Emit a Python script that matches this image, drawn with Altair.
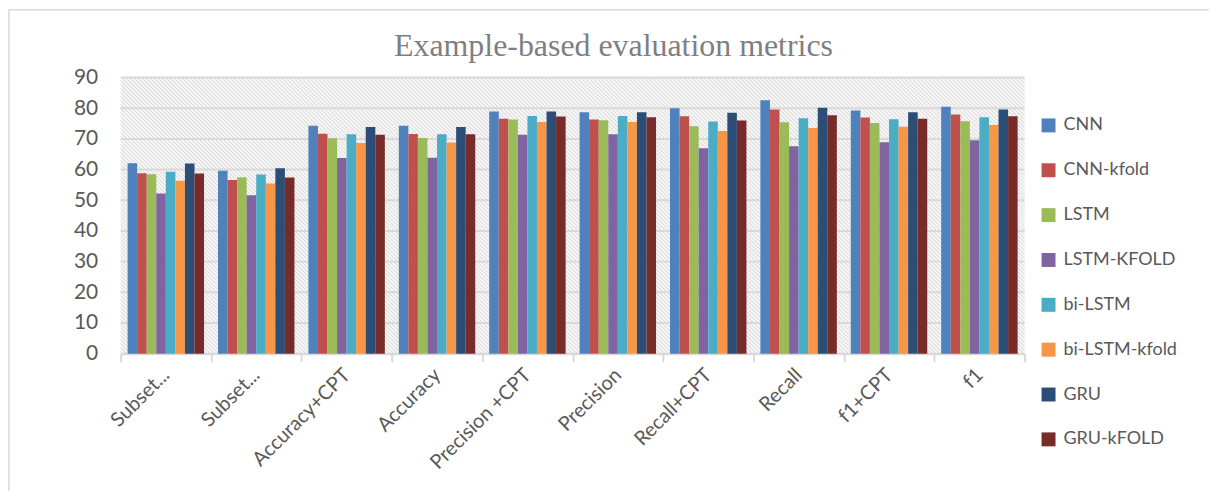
import altair as alt
import pandas as pd

metrics = ["Subset accuracy+CPT", "Subset accuracy", "Accuracy+CPT", "Accuracy",
           "Precision +CPT", "Precision", "Recall+CPT", "Recall", "f1+CPT", "f1"]
models = ["CNN", "CNN-kfold", "LSTM", "LSTM-KFOLD", "bi-LSTM", "bi-LSTM-kfold", "GRU", "GRU-kFOLD"]
colors = ["#4F81BD", "#C0504D", "#9BBB59", "#8064A2", "#4BACC6", "#F79646", "#2C4D75", "#772C2A"]

cnn = [62.1, 59.6, 74.3, 74.3, 78.9, 78.7, 80.0, 82.6, 79.3, 80.5]
cnn_kfold = [58.8, 56.6, 71.7, 71.6, 76.6, 76.3, 77.4, 79.6, 77.0, 78.0]
lstm = [58.5, 57.5, 70.2, 70.3, 76.3, 76.1, 74.1, 75.4, 75.2, 75.8]
lstm_kfold = [52.2, 51.6, 63.8, 63.9, 71.4, 71.5, 67.0, 67.6, 68.9, 69.6]
bilstm = [59.3, 58.4, 71.5, 71.5, 77.5, 77.5, 75.7, 76.7, 76.4, 77.1]
bilstm_kfold = [56.4, 55.5, 68.7, 68.8, 75.5, 75.5, 72.6, 73.6, 74.0, 74.5]
gru = [62.0, 60.4, 73.9, 73.9, 78.9, 78.7, 78.5, 80.2, 78.7, 79.6]
gru_kfold = [58.7, 57.4, 71.4, 71.5, 77.3, 77.1, 76.0, 77.7, 76.6, 77.4]
y_ticks = [0, 10, 20, 30, 40, 50, 60, 70, 80, 90]

series = [cnn, cnn_kfold, lstm, lstm_kfold, bilstm, bilstm_kfold, gru, gru_kfold]
rows = []
for m, vals in zip(models, series):
    for met, v in zip(metrics, vals):
        rows.append({"metric": met, "model": m, "value": v})
df = pd.DataFrame(rows)
grid_df = pd.DataFrame({"value": y_ticks})

W, H = 907, 277
PAD_L, PAD_T = 113, 69

# diagonal hatch pattern via a striped linear gradient
N = 296
stops = []
for i in range(N):
    stops.append(alt.GradientStop(offset=i / N, color="#ffffff"))
    stops.append(alt.GradientStop(offset=(i + 0.5) / N, color="#dcdcdc"))
stops.append(alt.GradientStop(offset=1.0, color="#ffffff"))
hatch = alt.LinearGradient(gradient="linear", stops=stops,
                           x1=0, y1=1, x2=1.19406, y2=0.63533)

y_scale = alt.Scale(domain=[0, 90], nice=False)
y_axis = alt.Axis(title=None, values=y_ticks, grid=False, domain=False,
                  ticks=False, labelFont="Lato", labelFontSize=21,
                  labelColor="#595959", labelPadding=23)

bg = alt.Chart(alt.Data(values=[{}])).mark_rect(fill=hatch).encode(
    x=alt.value(0), x2=alt.value(W), y=alt.value(0), y2=alt.value(H)
)

border = alt.Chart(alt.Data(values=[{}])).mark_rect(
    fill="transparent", stroke="#d9d9d9", strokeWidth=1.5
).encode(
    x=alt.value(9 - 8 - PAD_L), x2=alt.value(W + 300),
    y=alt.value(9 - 8 - PAD_T), y2=alt.value(H + 300)
)

grid = alt.Chart(grid_df).mark_rule(color="#d9d9d9", strokeWidth=2).encode(
    y=alt.Y("value:Q", scale=y_scale, axis=y_axis),
    x=alt.value(0), x2=alt.value(W)
)

bars = alt.Chart(df).mark_bar().encode(
    x=alt.X("metric:N", sort=metrics,
            scale=alt.Scale(paddingInner=0, paddingOuter=0),
            axis=alt.Axis(title=None, labelAngle=-45, labelAlign="right",
                          labelBaseline="middle",
                          labelExpr="indexof(datum.label,'Subset')==0 ? 'Subset...' : datum.label",
                          labelFont="Lato", labelFontSize=20, labelColor="#595959",
                          labelPadding=10, tickBand="extent", tickSize=8,
                          tickColor="#d9d9d9", tickWidth=2,
                          domainColor="#d9d9d9", domainWidth=2, grid=False)),
    xOffset=alt.XOffset("model:N", sort=models,
                        scale=alt.Scale(paddingInner=0, paddingOuter=0.73)),
    y=alt.Y("value:Q", scale=y_scale, axis=y_axis),
    color=alt.Color("model:N", sort=models,
                    scale=alt.Scale(domain=models, range=colors),
                    legend=alt.Legend(title=None, orient="none", legendX=922, legendY=39,
                                      symbolType="square", symbolSize=196,
                                      symbolStrokeWidth=0, labelFont="Lato",
                                      labelFontSize=18, labelColor="#595959",
                                      rowPadding=27, labelOffset=6, padding=0))
)

chart = alt.layer(border, bg, grid, bars).properties(
    width=W, height=H,
    autosize=alt.AutoSizeParams(type="none"),
    padding={"left": PAD_L, "top": PAD_T, "right": 1205 - PAD_L - W, "bottom": 483 - PAD_T - H},
    background="white",
    title=alt.TitleParams("Example-based evaluation metrics", font="Liberation Serif",
                          fontSize=32, fontWeight="normal", color="#7f7f7f",
                          anchor="middle", dx=41, baseline="alphabetic", offset=-79)
).configure_view(stroke=None)

chart.save("out.html", embed_options={"renderer": "svg", "actions": False})
